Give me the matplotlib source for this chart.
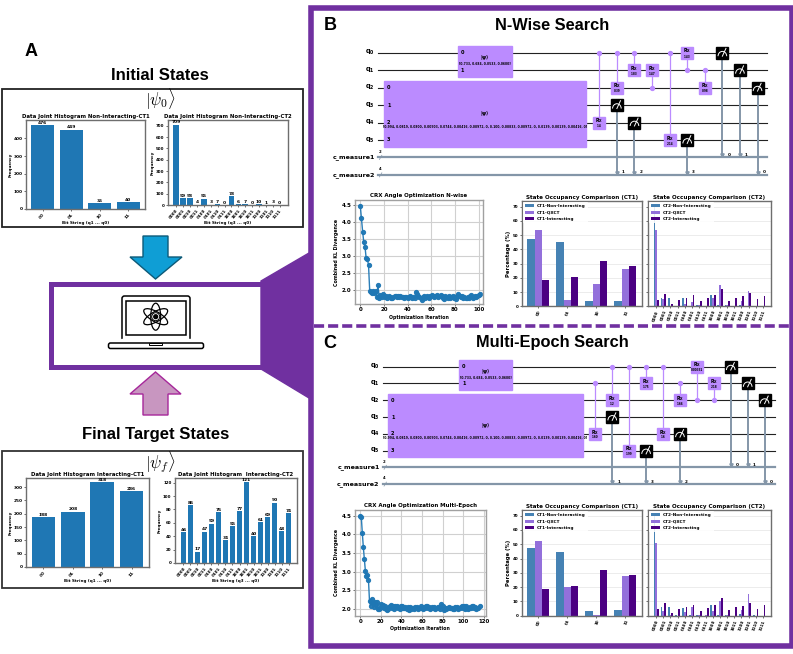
"""
Three panel overview figure: histograms of the states, and two circuit + optimisation rows.
"""
import numpy as np
import matplotlib as mpl
mpl.use('Agg')
import matplotlib.pyplot as plt
from matplotlib.patches import Rectangle, Polygon, Ellipse, Arc, FancyBboxPatch, Circle

mpl.rcParams['font.family'] = 'DejaVu Sans'
mpl.rcParams['mathtext.fontset'] = 'dejavusans'

W, H = 793, 654
PURPLE = '#7030a0'
GATE = '#bb8bff'
CLASSIC = '#8496a8'
SPINE = '#6e6e6e'
BAR = '#1f77b4'
C_NON, C_QX, C_INT = '#4682b4', '#9370db', '#4b0082'

# histogram data
bits2 = ['00', '01', '10', '11']
bits4 = ['0000', '0001', '0010', '0011', '0100', '0101', '0110', '0111',
         '1000', '1001', '1010', '1011', '1100', '1101', '1110', '1111']
init_ct1 = [476, 449, 35, 40]
init_ct2 = [709, 59, 58, 4, 55, 3, 7, 0, 78, 6, 7, 0, 10, 1, 3, 0]
final_ct1 = [188, 208, 318, 286]
final_ct2 = [46, 86, 17, 47, 59, 76, 34, 55, 77, 121, 40, 61, 69, 90, 48, 74]

# occupancy comparison (percent)
non_ct1 = [47.6, 44.9, 3.5, 4.0]
int_ct1 = [18.8, 20.8, 31.8, 28.6]
qx_ct1_b = [53.5, 4.3, 16.0, 26.0]
qx_ct1_c = [52.0, 19.8, 0.5, 27.5]
non_ct2 = [70.9, 5.9, 5.8, 0.4, 5.5, 0.3, 0.7, 0.0, 7.8, 0.6, 0.7, 0.0, 1.0, 0.1, 0.3, 0.0]
int_ct2 = [4.6, 8.6, 1.7, 4.7, 5.9, 7.6, 3.4, 5.5, 7.7, 12.1, 4.0, 6.1, 6.9, 9.0, 4.8, 7.4]
qx_ct2_b = [53.5, 5.2, 0.3, 0.0, 1.5, 3.3, 0.8, 0.0, 6.0, 15.0, 0.8, 0.0, 3.5, 11.0, 0.0, 0.0]
qx_ct2_c = [51.0, 3.5, 0.3, 0.0, 2.5, 6.2, 0.3, 0.3, 3.5, 10.0, 0.3, 0.0, 4.0, 15.2, 0.0, 0.0]

# KL divergence per iteration
kl_nwise = [4.48, 4.11, 3.72, 3.40, 3.28, 2.93, 2.92, 2.73, 1.96, 1.95, 1.90, 1.96, 1.92, 1.97, 1.80, 2.14,
            1.78, 1.85, 1.80, 1.88, 1.83, 1.80, 1.83, 1.76, 1.82, 1.80, 1.76, 1.78, 1.80, 1.82, 1.83, 1.80,
            1.82, 1.79, 1.82, 1.80, 1.81, 1.78, 1.80, 1.79, 1.77, 1.80, 1.82, 1.79, 1.76, 1.80, 1.78, 1.94,
            1.88, 1.82, 1.80, 1.76, 1.72, 1.80, 1.84, 1.78, 1.82, 1.80, 1.78, 1.84, 1.82, 1.86, 1.80, 1.84,
            1.82, 1.85, 1.80, 1.82, 1.86, 1.84, 1.78, 1.74, 1.84, 1.80, 1.76, 1.82, 1.78, 1.80, 1.84, 1.76,
            1.80, 1.74, 1.82, 1.88, 1.84, 1.80, 1.82, 1.78, 1.80, 1.76, 1.78, 1.80, 1.76, 1.82, 1.86, 1.78,
            1.80, 1.82, 1.80, 1.84, 1.86, 1.88]
kl_epoch = [4.50, 4.48, 4.04, 3.66, 3.33, 3.02, 2.88, 2.90, 2.77, 2.20, 2.08, 2.27, 2.15, 2.05, 2.18, 2.10,
            2.17, 1.98, 2.00, 2.02, 2.12, 2.05, 2.10, 2.02, 2.08, 2.00, 1.97, 2.00, 2.04, 2.06, 2.10, 2.02,
            2.06, 2.00, 2.08, 2.04, 2.06, 2.02, 2.05, 2.00, 2.08, 2.06, 2.03, 2.02, 2.05, 1.98, 2.04, 1.97,
            2.04, 2.00, 2.02, 2.03, 2.00, 2.04, 2.02, 2.05, 2.00, 2.03, 2.01, 2.06, 2.03, 2.00, 2.04, 2.02,
            2.06, 2.08, 2.02, 2.04, 2.00, 2.03, 2.05, 2.02, 2.04, 2.00, 2.03, 2.02, 2.04, 2.05, 2.00, 2.12,
            2.08, 1.97, 2.02, 2.00, 2.03, 2.02, 2.04, 2.01, 2.02, 2.03, 2.00, 1.98, 2.04, 2.02, 2.05, 2.00,
            2.03, 2.02, 2.04, 2.08, 2.02, 2.07, 2.00, 2.06, 2.02, 1.99, 2.03, 2.04, 2.02, 2.06, 2.07, 2.03,
            2.05, 2.00, 2.03, 2.02, 2.06]

# circuits: (column, control wire, target wire, angle label)
crx_b = [(0, 0, 4, '1.4'), (1, 0, 2, '0.39'), (2, 0, 1, '1.83'), (3, 2, 1, '1.47'),
         (4, 0, 5, '2.14'), (5, 1, 0, '1.43'), (6, 1, 2, '0.98')]
crx_c = [(0, 1, 4, '1.60'), (1, 0, 2, '1.2'), (2, 0, 5, '1.99'), (3, 0, 1, '1.75'),
         (4, 0, 4, '1.6'), (5, 1, 2, '1.66'), (6, 2, 0, '0.00331'), (7, 2, 1, '2.18')]
# measures: (column, quantum wire, classical wire, bit)
meas_b = [(1, 3, 7, 1), (2, 4, 7, 2), (5, 5, 7, 3), (7, 0, 6, 0), (8, 1, 6, 1), (9, 2, 7, 0)]
meas_c = [(1, 3, 7, 1), (3, 5, 7, 3), (5, 4, 7, 2), (8, 0, 6, 0), (9, 1, 6, 1), (10, 2, 7, 0)]
wire_names = ['$\\mathbf{q_0}$', '$\\mathbf{q_1}$', '$\\mathbf{q_2}$', '$\\mathbf{q_3}$',
              '$\\mathbf{q_4}$', '$\\mathbf{q_5}$', 'c_measure1', 'c_measure2']
state2 = '[0.733, 0.684, 0.0533, 0.0600]'
state4 = ('[0.994, 0.0819, 0.0800, 0.00503, 0.0744, 0.00416, 0.00972, 0, 0.100, '
          '0.00833, 0.00972, 0, 0.0139, 0.00139, 0.00416, 0]')

fig = plt.figure(figsize=(W / 100, H / 100), dpi=100, facecolor='white')


def px_axes(x0, y0, x1, y1):
    return fig.add_axes([x0 / W, 1 - y1 / H, (x1 - x0) / W, (y1 - y0) / H])


def style(ax, size=3.2):
    for s in ax.spines.values():
        s.set_color(SPINE)
        s.set_linewidth(1.0)
    ax.tick_params(labelsize=size, length=1.5, width=0.4, pad=1)
    for lab in ax.get_xticklabels() + ax.get_yticklabels():
        lab.set_fontweight('bold')


def hist(rect, labels, vals, title, xlabel, ymax, yticks):
    ax = px_axes(*rect)
    x = np.arange(len(vals))
    bars = ax.bar(x, vals, color=BAR, width=0.8)
    ax.bar_label(bars, fontsize=3.2, fontweight='bold', padding=0.2)
    ax.set_ylim(0, ymax)
    ax.set_yticks(yticks)
    ax.set_xticks(x, labels, rotation=50, ha='right', rotation_mode='anchor')
    ax.set_title(title, fontsize=3.85, fontweight='bold', pad=1.5)
    ax.set_xlabel(xlabel, fontsize=3.0, fontweight='bold', labelpad=0.8)
    ax.set_ylabel('Frequency', fontsize=3.0, fontweight='bold', labelpad=1)
    style(ax, 3.1 if len(vals) == 4 else 2.9)


def kl_plot(rect, vals, title, xticks, xlim, ylim):
    ax = px_axes(*rect)
    ax.plot(np.arange(len(vals)), vals, 'o-', color=BAR, ms=2.8, lw=1.0, alpha=0.95)
    ax.set_xlim(*xlim)
    ax.set_ylim(*ylim)
    ax.set_xticks(xticks)
    ax.set_yticks([2.0, 2.5, 3.0, 3.5, 4.0, 4.5])
    ax.grid(True, color='#d0d0d0', lw=0.8)
    ax.set_axisbelow(True)
    ax.set_title(title, fontsize=4.0, fontweight='bold', pad=2.5)
    ax.set_xlabel('Optimization Iteration', fontsize=3.4, fontweight='bold', labelpad=1.5)
    ax.set_ylabel('Combined KL Divergence', fontsize=3.4, fontweight='bold', labelpad=1.5)
    style(ax, 4.0)
    for s in ax.spines.values():
        s.set_color('#a0a0a0')


def compare(rect, labels, non, qx, inter, tag, ylabel):
    ax = px_axes(*rect)
    x = np.arange(len(labels))
    w = 0.25
    ax.bar(x - w, non, w, color=C_NON, label=f'{tag}-Non-Interacting')
    ax.bar(x, qx, w, color=C_QX, label=f'{tag}-QXCT')
    ax.bar(x + w, inter, w, color=C_INT, label=f'{tag}-Interacting')
    ax.set_ylim(0, 74)
    ax.set_yticks(range(0, 71, 10))
    ax.set_xticks(x, labels, rotation=70, ha='right', rotation_mode='anchor')
    ax.yaxis.grid(True, color='#e4e4e4', lw=0.5)
    ax.set_axisbelow(True)
    ax.set_title(f'State Occupancy Comparison ({tag})', fontsize=4.1, fontweight='bold', pad=1.5)
    if ylabel:
        ax.set_ylabel('Percentage (%)', fontsize=3.8, fontweight='bold', labelpad=1.5)
    else:
        ax.tick_params(labelleft=False)
    style(ax, 2.9)
    ax.legend(loc='upper left', framealpha=0.85, edgecolor='none', borderpad=0.4,
              labelspacing=0.62, handlelength=2.0, prop={'size': 3.1, 'weight': 'bold'},
              bbox_to_anchor=(0.0, 1.0), borderaxespad=0.3)


def circuit(x0, x1, col0, dcol, wire0, dwire, crx, meas, gates):
    # axes spans wires -1..8, columns are spaced dcol pixels from col0
    top, bot = wire0 - dwire, wire0 + 8 * dwire
    ax = px_axes(x0 - 70, top, x1 + 4, bot)
    ax.set_xlim((x0 - 70 - col0) / dcol, (x1 + 4 - col0) / dcol)
    ax.set_ylim(8, -1)
    ax.axis('off')
    xa, xb = (x0 - col0) / dcol, (x1 - col0) / dcol
    gw, gh = 12.0 / dcol, 12.0 / dwire
    for i, name in enumerate(wire_names):
        if i < 6:
            ax.plot([xa, xb], [i, i], color='#222222', lw=0.8, zorder=1)
        else:
            ax.plot([xa, xb], [i, i], color=CLASSIC, lw=1.6, zorder=1)
            ax.plot([xa + 0.08, xa + 0.22], [i + 0.12, i - 0.12], color=CLASSIC, lw=0.5)
            ax.text(xa + 0.1, i - 0.28, '2' if i == 6 else '4', fontsize=2.8, fontweight='bold', ha='center')
        ax.text(xa - 3.0 / dcol, i, name, fontsize=4.6 if i > 5 else 4.8, fontweight='bold', ha='right', va='center')
    for (xl, xr, w0, w1, text, dpsi, dstate) in gates:
        a, b = (xl - col0) / dcol, (xr - col0) / dcol
        ax.add_patch(Rectangle((a, w0 - 0.38), b - a, w1 - w0 + 0.76, color=GATE, zorder=2))
        for k, wire in enumerate(range(w0, w1 + 1)):
            ax.text(a + 3 / dcol, wire, str(k), fontsize=3.6, fontweight='bold', va='center', zorder=3)
        mid = (w0 + w1) / 2
        ax.text((a + b) / 2, mid + dpsi / dwire, '$\\mathbf{|\\psi\\rangle}$', fontsize=3.6, ha='center', va='center', zorder=3)
        ax.text((a + b) / 2, mid + dstate / dwire, text, fontsize=2.14, fontweight='bold', ha='center', va='center', zorder=3)
    for col, ctrl, targ, ang in crx:
        ax.plot([col, col], [ctrl, targ], color=GATE, lw=0.9, zorder=2)
        ax.plot([col], [ctrl], 'o', color=GATE, ms=2.8, zorder=3)
        ax.add_patch(Rectangle((col - gw / 2, targ - gh / 2), gw, gh, color=GATE, zorder=3))
        ax.text(col, targ - 0.1, '$\\mathbf{R_X}$', fontsize=3.4, ha='center', va='center', zorder=4)
        ax.text(col, targ + 0.22, ang, fontsize=2.0, fontweight='bold', ha='center', va='center', zorder=4)
    for col, q, c, bit in meas:
        ax.plot([col, col], [q, c - 0.1], color=CLASSIC, lw=1.4, zorder=2)
        ax.plot([col], [c - 0.13], 'v', color=CLASSIC, ms=2.4, zorder=3)
        ax.text(col + 5 / dcol, c - 0.15, str(bit), fontsize=3.0, fontweight='bold', va='center')
        ax.add_patch(Rectangle((col - gw / 2, q - gh / 2), gw, gh, color='black', zorder=3))
        ax.add_patch(Arc((col, q + 0.2), gw * 0.72, gh * 0.8, theta1=180, theta2=360, color='white', lw=0.7, zorder=4))
        ax.plot([col, col + gw * 0.3], [q + 0.2, q - 0.25], color='white', lw=0.7, zorder=4)


# background shapes, in pixels
bg = fig.add_axes([0, 0, 1, 1], zorder=-1)
bg.set_xlim(0, W)
bg.set_ylim(H, 0)
bg.axis('off')

bg.add_patch(Rectangle((311, 7.8), 480.5, 637.7, fill=False, ec=PURPLE, lw=4.0))
bg.plot([314, 790], [326, 326], color=PURPLE, lw=2.6, dashes=(2.8, 1.1))
bg.add_patch(Polygon([(261, 281), (309, 253), (309, 398), (261, 369)], color=PURPLE))
bg.add_patch(Rectangle((50.5, 283.5), 213, 83, fill=False, ec=PURPLE, lw=3.6))

bg.add_patch(Rectangle((2, 88.5), 301, 138, fill=False, ec='#222222', lw=1.3))
bg.add_patch(Rectangle((2, 450.5), 301, 137.5, fill=False, ec='#333333', lw=1.3))

bg.add_patch(Polygon([(143, 236), (168, 236), (168, 257), (182, 257), (155.5, 279), (130, 257), (143, 257)],
                     fc='#0f9ed5', ec='#0d5a78', lw=1.0))
bg.add_patch(Polygon([(143, 415), (168, 415), (168, 394), (181, 394), (155.5, 372), (130, 394), (143, 394)],
                     fc='#c896c0', ec='#a6279a', lw=1.0))

# laptop with atom symbol
bg.add_patch(FancyBboxPatch((122, 296), 68, 46, boxstyle='round,pad=0,rounding_size=2.5', fc='white', ec='black', lw=1.1))
bg.add_patch(Rectangle((121, 339), 70, 5, color='white', zorder=2))
bg.add_patch(Rectangle((126, 300.5), 60, 34.5, fc='white', ec='black', lw=1.1, zorder=3))
bg.add_patch(FancyBboxPatch((108.5, 343), 95, 5.5, boxstyle='round,pad=0,rounding_size=2', fc='white', ec='black', lw=1.1, zorder=3))
bg.add_patch(Rectangle((149, 343), 13, 2, fc='white', ec='black', lw=0.7, zorder=4))
for ang in (0, 60, 120):
    bg.add_patch(Ellipse((155.7, 316.7), 27, 10, angle=ang + 90, fill=False, ec='black', lw=0.9, zorder=4))
bg.add_patch(Circle((155.7, 316.7), 1.9, color='black', zorder=5))
bg.add_patch(Circle((155.7, 316.7), 4.0, fill=False, ec='black', lw=0.7, zorder=5))

# text, in pixels
heading = dict(fontweight='bold', family='Liberation Sans', ha='center', va='center')
bg.text(31, 52, 'A', fontsize=13, **heading)
bg.text(160, 76, 'Initial States', fontsize=12, **heading)
bg.text(156, 435, 'Final Target States', fontsize=12, **heading)
bg.text(160, 99, '$|\\psi_0\\rangle$', fontsize=12, ha='center', va='center', math_fontfamily='cm')
bg.text(160, 462, '$|\\psi_f\\rangle$', fontsize=12, ha='center', va='center', math_fontfamily='cm')
bg.text(330.5, 26, 'B', fontsize=13, **heading)
bg.text(552, 26, 'N-Wise Search', fontsize=11.8, **heading)
bg.text(330, 344, 'C', fontsize=13, **heading)
bg.text(552, 342, 'Multi-Epoch Search', fontsize=11.8, **heading)

# panel A
hist((26, 120, 145, 209), bits2, init_ct1, 'Data Joint Histogram Non-Interacting-CT1',
     'Bit String (q1 ... q0)', 504, [0, 100, 200, 300, 400])
hist((168, 120, 288, 205), bits4, init_ct2, 'Data Joint Histogram Non-Interacting-CT2',
     'Bit String (q3 ... q0)', 750, range(0, 701, 100))
hist((26, 478, 149, 567), bits2, final_ct1, 'Data Joint Histogram Interacting-CT1',
     'Bit String (q1 ... q0)', 334, range(0, 301, 50))
hist((175, 478, 297, 563), bits4, final_ct2, 'Data Joint Histogram  Interacting-CT2',
     'Bit String (q3 ... q0)', 127, range(0, 121, 20))

# panel B
circuit(378, 767, 599.3, 17.58, 52.7, 17.45, crx_b, meas_b,
        [(457.7, 512.3, 0, 1, state2, -3.5, 2.5), (384, 586, 2, 5, state4, 0, 13.5)])
kl_plot((354.7, 200, 483.3, 304), kl_nwise, 'CRX Angle Optimization N-wise',
        range(0, 101, 20), (-4.7, 104), (1.59, 4.65))
compare((522, 201, 641.7, 306.3), bits2, non_ct1, qx_ct1_b, int_ct1, 'CT1', True)
compare((648, 201, 771, 306.3), bits4, non_ct2, qx_ct2_b, int_ct2, 'CT2', False)

# panel C
circuit(382.7, 774.7, 595.3, 16.93, 366.7, 16.77, crx_c, meas_c,
        [(459, 511.7, 0, 1, state2, -3.5, 2.5), (388, 582.7, 2, 5, state4, 0, 12.5)])
kl_plot((354.7, 510, 486, 615.7), kl_epoch, 'CRX Angle Optimization Multi-Epoch',
        range(0, 121, 20), (-5.4, 122.3), (1.81, 4.66))
compare((522, 510, 641.7, 615.7), bits2, non_ct1, qx_ct1_c, int_ct1, 'CT1', True)
compare((648, 510, 771, 615.7), bits4, non_ct2, qx_ct2_c, int_ct2, 'CT2', False)

fig.savefig('out.png', dpi=100)
plt.close()
